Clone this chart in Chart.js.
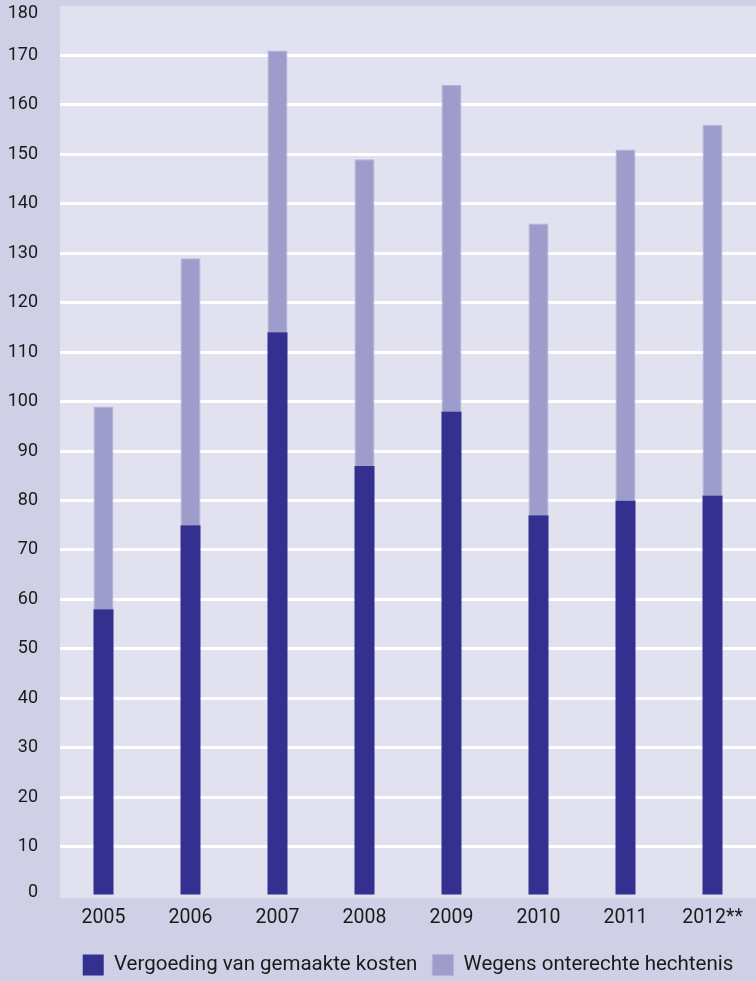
<!DOCTYPE html>
<html><head><meta charset="utf-8">
<script src="https://cdn.jsdelivr.net/npm/chart.js@4"></script>
<style>html,body{margin:0;padding:0;background:#cfcfe5;}#wrap{width:756px;height:981px;}</style>
</head><body><div id="wrap"><canvas id="c" width="756" height="981"></canvas></div>
<script>
const years = ['2005','2006','2007','2008','2009','2010','2011','2012**'];
const vergoeding = [58, 75, 114, 87, 98, 77, 80, 81];
const onterecht = [41, 54, 57, 62, 66, 59, 71, 75];
const seriesNames = ['Vergoeding van gemaakte kosten', 'Wegens onterechte hechtenis'];
const yMin = 0, yMax = 180, yStep = 10;

const plotBg = {
  id: 'plotBg',
  beforeDraw(chart) {
    const {ctx, chartArea: a} = chart;
    ctx.save();
    ctx.fillStyle = '#cfcfe5';
    ctx.fillRect(0, 0, chart.width, chart.height);
    ctx.fillStyle = '#e1e1f0';
    ctx.fillRect(a.left, a.top, a.right - a.left, a.bottom - a.top + 2);
    ctx.restore();
    const y = chart.scales.y;
    const items = y.getLabelItems(chart.chartArea);
    if (items.length) {
      items[0].options.translation[1] -= 4;
      items[items.length - 1].options.translation[1] += 7.5;
    }
  }
};

new Chart(document.getElementById('c'), {
  type: 'bar',
  data: {
    labels: years,
    datasets: [
      {label: seriesNames[0], data: vergoeding, backgroundColor: '#34308f', borderColor: '#4a47a0', borderWidth: 0},
      {label: seriesNames[1], data: onterecht, backgroundColor: '#9d9cca', borderColor: '#b3b2da', borderWidth: {left:1,right:1,top:1,bottom:0}}
    ]
  },
  options: {
    responsive: false,
    devicePixelRatio: 1,
    animation: false,
    layout: {padding: {top: 6, right: 0, bottom: -4.5, left: 0}},
    datasets: {bar: {barPercentage: 0.23, categoryPercentage: 1}},
    plugins: {
      tooltip: {enabled: false},
      legend: {
        position: 'bottom',
        fullSize: false,
        labels: {
          color: '#1a1a1a',
          font: {family: 'Roboto', size: 20.5},
          boxWidth: 21, boxHeight: 21,
          padding: 15
        }
      }
    },
    scales: {
      x: {
        stacked: true,
        border: {display: false},
        grid: {display: false, drawTicks: false},
        ticks: {color: '#1a1a1a', font: {family: 'Roboto', size: 19.5}, padding: 10, maxRotation: 0}
      },
      y: {
        stacked: true,
        min: yMin, max: yMax,
        border: {display: false},
        grid: {
          drawTicks: false,
          lineWidth: 3,
          color: (c) => (c.tick && (c.tick.value === yMin || c.tick.value === yMax)) ? 'rgba(0,0,0,0)' : '#ffffff'
        },
        ticks: {stepSize: yStep, color: '#1a1a1a', font: {family: 'Roboto', size: 18}, padding: 22},
        afterFit(s) { s.width = 60; s.paddingTop = 0; s.paddingBottom = 0; }
      }
    }
  },
  plugins: [plotBg]
});
</script>
</body></html>
